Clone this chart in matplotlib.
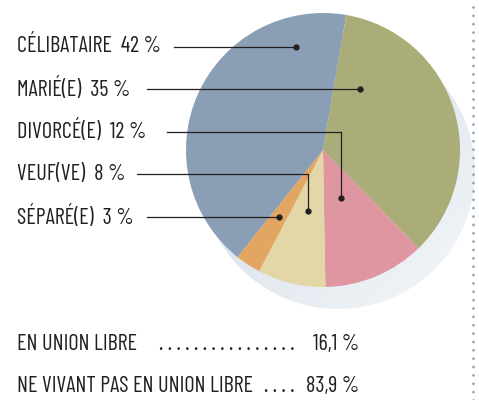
import numpy as np
import matplotlib
matplotlib.use("Agg")
import matplotlib.pyplot as plt
from matplotlib.patches import Circle

# Data
categories = ["CÉLIBATAIRE", "MARIÉ(E)", "DIVORCÉ(E)", "VEUF(VE)", "SÉPARÉ(E)"]
values = [42, 35, 12, 8, 3]
colors = ["#8a9eb5", "#aaad77", "#e096a0", "#e3d7a8", "#e3a662"]
union_labels = ["EN UNION LIBRE", "NE VIVANT PAS EN UNION LIBRE"]
union_values = ["16,1 %", "83,9 %"]

plt.rcParams["font.family"] = ["Barlow Condensed", "DejaVu Sans"]
TXT = "#231f20"
FS = 16

W, H = 479, 400
fig = plt.figure(figsize=(W / 100, H / 100), dpi=100)
ax = fig.add_axes([0, 0, 1, 1])

cx, cy, r = 323, 250, 137

# soft shadow behind the pie
sx, sy = cx + 15, cy - 22
gx, gy = np.meshgrid(np.linspace(-1, 1, 200), np.linspace(-1, 1, 200))
t = np.clip((gx - gy + 2) / 4, 0, 1)[..., None]
c0 = np.array([0.80, 0.85, 0.89])
c1 = np.array([0.96, 0.97, 0.98])
img = c0 * (1 - t) + c1 * t
im = ax.imshow(img, extent=(sx - r, sx + r, sy - r, sy + r), origin="lower",
               zorder=1, interpolation="bilinear")
im.set_clip_path(Circle((sx, sy), r, transform=ax.transData))

# pie, clockwise, Célibataire starting lower left
ax.pie(values, colors=colors, center=(cx, cy), radius=r, startangle=-128.6,
       counterclock=False, wedgeprops=dict(linewidth=0, zorder=2), frame=True)
ax.set_xlim(0, W)
ax.set_ylim(0, H)
ax.set_aspect("equal")
ax.axis("off")

# labels with leader lines
label_y = [353, 311, 268, 226, 183]
line_x0 = [174, 147, 167, 137, 147]
dot_pos = [(296, 353), (360, 311), (341, 202), (308, 189), (279, 183)]
for name, v, y, x0, (dx, dy) in zip(categories, values, label_y, line_x0, dot_pos):
    ax.text(17, y, f"{name}  {v} %", fontsize=FS, color=TXT,
            va="center", ha="left", zorder=5)
    ax.plot([x0, dx, dx], [y, y, dy], color=TXT, lw=0.9, zorder=4)
    ax.plot(dx, dy, "o", color=TXT, ms=3.5, zorder=4)

# union libre summary
n_dots = [16, 4]
for i, (lab, val, nd) in enumerate(zip(union_labels, union_values, n_dots)):
    y = 55 - i * 42
    ax.text(17, y, lab, fontsize=FS, color=TXT, va="center", ha="left")
    ax.text(359, y, val, fontsize=FS, color=TXT, va="center", ha="right")
    ax.text(295, y, " ".join(["."] * nd), fontsize=FS, color=TXT,
            va="center", ha="right")

# dotted separator on the right
ax.axvline(473, color="#8ea1bd", lw=2, linestyle=(0, (0.01, 3)),
           dash_capstyle="round")

fig.savefig("out.png", dpi=100)
